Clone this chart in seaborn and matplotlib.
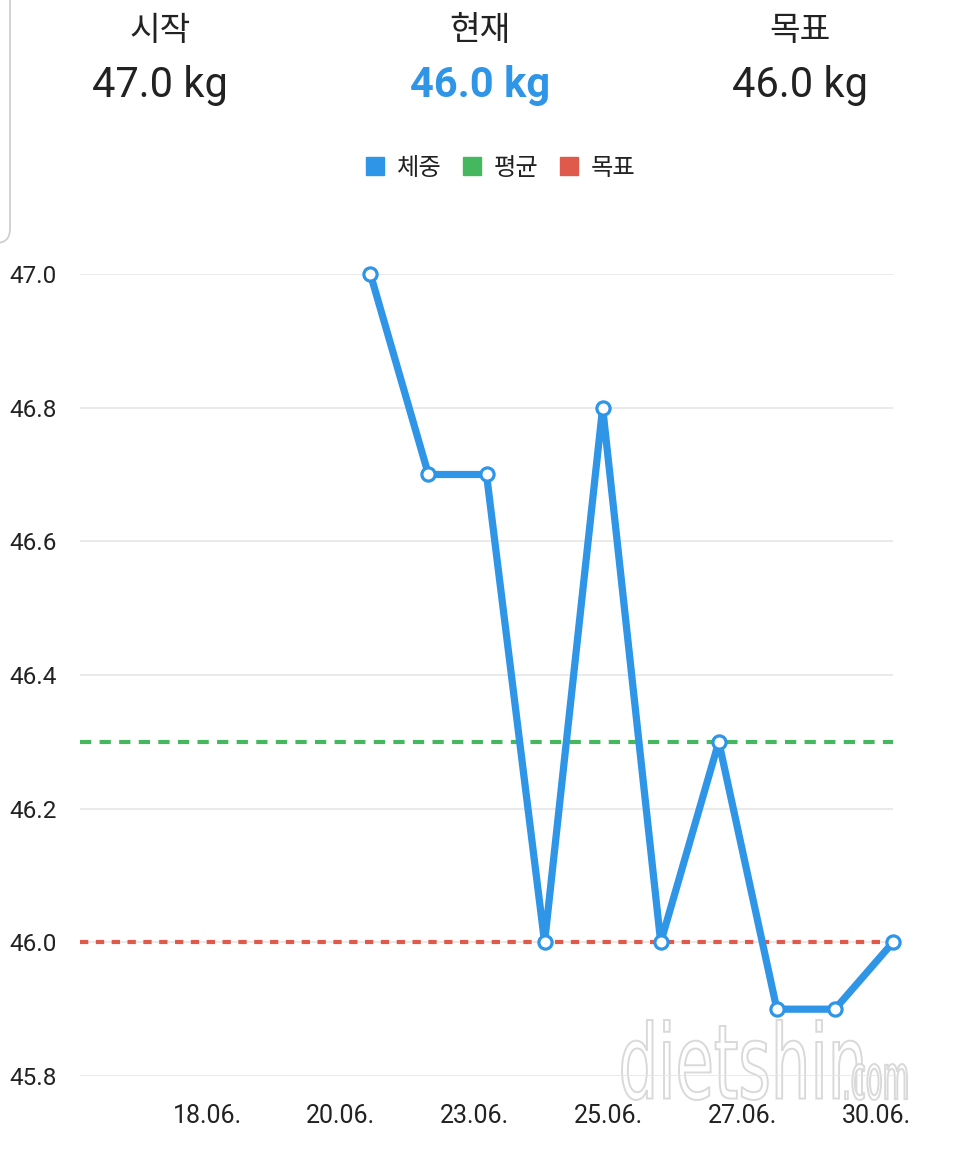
import matplotlib
matplotlib.use("Agg")
import matplotlib.pyplot as plt
import seaborn as sns
import pandas as pd
from matplotlib.lines import Line2D
from matplotlib.textpath import TextPath
from matplotlib.patches import PathPatch, FancyBboxPatch
from matplotlib.font_manager import FontProperties
from matplotlib.transforms import Affine2D, IdentityTransform

# ---- data ----
day_numbers = [21, 22, 23, 24, 25, 26, 27, 28, 29, 30]
weights = [47.0, 46.7, 46.7, 46.0, 46.8, 46.0, 46.3, 45.9, 45.9, 46.0]
mean_weight = 46.3
goal_weight = 46.0
start_weight = 47.0
current_weight = 46.0
x_tick_labels = ["18.06.", "20.06.", "23.06.", "25.06.", "27.06.", "30.06."]
x_tick_pos = [18.19, 20.48, 22.79, 25.10, 27.41, 29.72]
y_ticks = [45.8, 46.0, 46.2, 46.4, 46.6, 46.8, 47.0]
header_titles = ["시작", "현재", "목표"]
header_values = [start_weight, current_weight, goal_weight]
legend_labels = ["체중", "평균", "목표"]

BLUE = "#2e95e7"
GREEN = "#45b85f"
RED = "#e05a4b"
DARK = "#222222"

sns.set_theme(style="white")
plt.rcParams["font.family"] = ["Roboto", "Noto Sans CJK KR", "DejaVu Sans"]

W, H = 960, 1151
fig = plt.figure(figsize=(W / 100, H / 100), dpi=100)
fig.patch.set_facecolor("white")

# ---- watermark (behind the plot) ----
fp = FontProperties(family="DejaVu Sans")
def watermark(text, x0, y0_top, w, h):
    p = TextPath((0, 0), text, size=100, prop=fp)
    bb = p.get_extents()
    tr = Affine2D().translate(-bb.x0, -bb.y0).scale(w / bb.width, h / bb.height) \
        .translate(x0, H - (y0_top + h))
    fig.add_artist(PathPatch(p, transform=tr + IdentityTransform(), facecolor="white",
                             edgecolor="#d9d9d9", lw=1.4, zorder=-1))

watermark("dietshin", 622, 1020, 240, 80)
watermark(".com", 845, 1064, 62, 36)

left, right, top, bottom = 80, 893, 274, 1076
ax = fig.add_axes([left / W, 1 - bottom / H, (right - left) / W, (bottom - top) / H])
ax.patch.set_alpha(0)

df = pd.DataFrame({"day": day_numbers, "weight": weights})

ax.set_xlim(16, 30)
ax.set_ylim(45.8, 47.0)
ax.set_yticks(y_ticks)
ax.set_yticklabels([f"{v:.1f}" for v in y_ticks])
ax.grid(axis="y", color="#e6e6e6", lw=1.2)
ax.grid(axis="x", visible=False)
ax.set_axisbelow(True)
for s in ax.spines.values():
    s.set_visible(False)

ax.axhline(mean_weight, color=GREEN, lw=3.0, ls=(0, (2.7, 2.0)), zorder=2)
ax.axhline(goal_weight, color=RED, lw=3.0, ls=(0, (2.0, 1.8)), zorder=2)

sns.lineplot(data=df, x="day", y="weight", ax=ax, color=BLUE, lw=5.2,
             marker="o", markersize=9.5, markerfacecolor="white",
             markeredgecolor=BLUE, markeredgewidth=2.3, zorder=3,
             clip_on=False)

ax.set_xticks(x_tick_pos)
ax.set_xticklabels(x_tick_labels)
ax.tick_params(axis="x", length=0, pad=20, labelsize=18, colors=DARK)
ax.tick_params(axis="y", length=0, pad=17, labelsize=17.5, colors=DARK)
ax.set_xlabel("")
ax.set_ylabel("")

# ---- header ----
centers = [160, 480, 800]
for cx, title, val, i in zip(centers, header_titles, header_values, range(3)):
    fig.text(cx / W, 1 - 31 / H, title, ha="center", va="center",
             fontsize=24, color=DARK)
    fig.text(cx / W, 1 - 86 / H, f"{val:.1f} kg", ha="center", va="center",
             fontsize=30, color=BLUE if i == 1 else DARK,
             fontweight="bold" if i == 1 else "normal")

# ---- legend ----
handles = [Line2D([], [], ls="none", marker="s", markersize=13.5,
                  markerfacecolor=c, markeredgecolor=c)
           for c in (BLUE, GREEN, RED)]
fig.legend(handles, legend_labels, loc="center", bbox_to_anchor=(500 / W, 1 - 168 / H),
           ncol=3, frameon=False, fontsize=17.5, handlelength=0.9, handletextpad=0.45,
           columnspacing=0.8, labelcolor=DARK)

# ---- card edge at top left ----
card = FancyBboxPatch((-200, H - 243), 210, 400,
                      boxstyle="round,pad=0,rounding_size=14",
                      transform=IdentityTransform(), facecolor="none",
                      edgecolor="#cfcfcf", lw=1.3)
fig.add_artist(card)

fig.savefig("out.png", dpi=100, facecolor="white")
